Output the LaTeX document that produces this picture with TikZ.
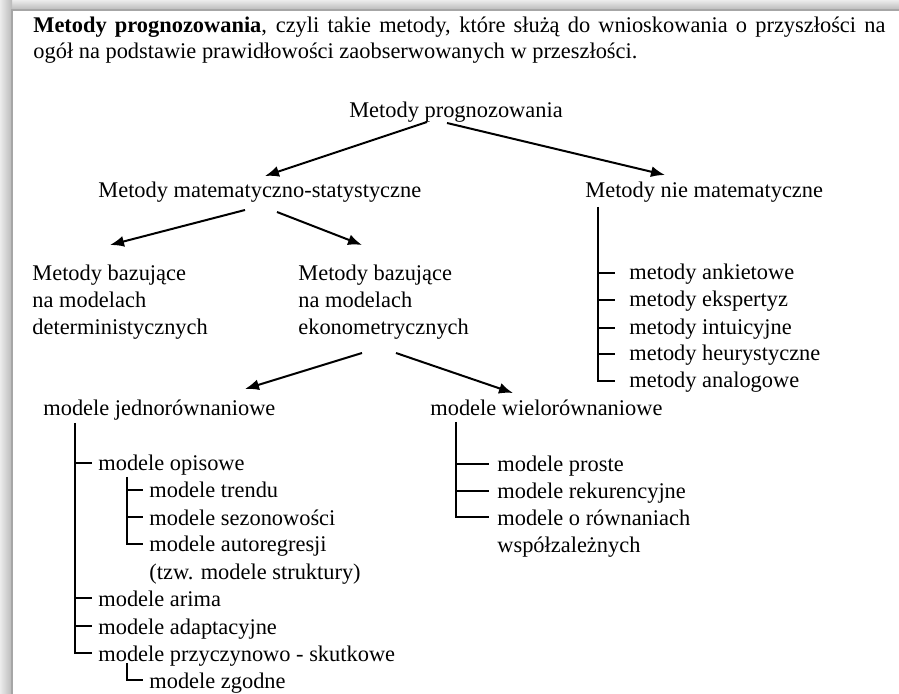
\documentclass[tikz,border=0pt]{standalone}
\usepackage{fontspec}
\setmainfont{Liberation Serif}
\usetikzlibrary{calc,arrows.meta}
\newcommand\mlines[1]{\begin{tabular}[t]{@{}l@{}}#1\end{tabular}}
\begin{document}
\begin{tikzpicture}[x=0.5pt,y=-0.5pt,
  txt/.style={inner sep=0pt, anchor=base west, font=\fontsize{11.2}{13.5}\selectfont},
  arr/.style={line width=1pt, -{Latex[length=7pt,width=5.5pt]}},
  tree/.style={line width=0.7pt}]
\useasboundingbox (0,0) rectangle (899,694);
\fill[white] (0,0) rectangle (899,694);
% shadow frame
\shade[top color=gray!15, bottom color=gray!55] (0,0) rectangle (899,10);
\shade[left color=gray!15, right color=gray!55] (0,0) rectangle (12,694);
\draw[gray!70, line width=1pt] (12,694) -- (12,10.5) -- (899,10.5);

% header
\node[txt] (hdr) at (33,33) {\mlines{\makebox[426pt][s]{\textbf{Metody prognozowania}, czyli takie metody, które służą do wnioskowania o przyszłości na}\\[-0.5pt] ogół na podstawie prawidłowości zaobserwowanych w przeszłości.}};

% nodes
\node[txt, anchor=base] (root) at (456,118) {Metody prognozowania};
\node[txt] (ms) at (98,198) {Metody matematyczno-statystyczne};
\node[txt] (nm) at (585,198) {Metody nie matematyczne};
\node[txt] (det) at (32,281) {\mlines{Metody bazujące\\na modelach\\deterministycznych}};
\node[txt] (eko) at (298,281) {\mlines{Metody bazujące\\na modelach\\ekonometrycznych}};
\node[txt] (jed) at (43,416) {modele jednorównaniowe};
\node[txt] (wie) at (430,416) {modele wielorównaniowe};

% non-mathematical list
\node[txt] (n1) at (629,280) {metody ankietowe};
\node[txt] (n2) at (629,307) {metody ekspertyz};
\node[txt] (n3) at (629,335) {metody intuicyjne};
\node[txt] (n4) at (629,361) {metody heurystyczne};
\node[txt] (n5) at (629,388) {metody analogowe};

% single-equation list
\node[txt] (opis) at (98,471) {modele opisowe};
\node[txt] (trend) at (149,498) {modele trendu};
\node[txt] (sez) at (149,525) {modele sezonowości};
\node[txt] (auto) at (149,552) {\mlines{modele autoregresji\\(tzw. modele struktury)}};
\node[txt] (arima) at (98,606) {modele arima};
\node[txt] (adapt) at (98,634) {modele adaptacyjne};
\node[txt] (przy) at (98,661) {modele przyczynowo - skutkowe};
\node[txt] (zgod) at (149,688) {modele zgodne};

% multi-equation list
\node[txt] (pros) at (497,472) {modele proste};
\node[txt] (rek) at (497,499) {modele rekurencyjne};
\node[txt] (wsp) at (497,525) {\mlines{modele o równaniach\\współzależnych}};

% arrows
\draw[arr] ($(root.base)+(-29,4)$) -- ($(ms.base west)+(167,-22)$);
\draw[arr] ($(root.base)+(-9,5)$) -- ($(nm.base west)+(80,-23)$);
\draw[arr] ($(ms.base west)+(147,12)$) -- ($(det.base west)+(78,-36)$);
\draw[arr] ($(ms.base west)+(179,14)$) -- ($(eko.base west)+(64,-36)$);
\draw[arr] ($(eko.base west)+(64,72)$) -- ($(jed.base west)+(202,-27)$);
\draw[arr] ($(eko.base west)+(98,72)$) -- ($(wie.base west)+(83,-23)$);

% tree: non-mathematical
\coordinate (nv) at ($(nm.base west)+(13,9)$);
\foreach \n in {n1,n2,n3,n4,n5} {\coordinate (t\n) at ($(\n.base west)+(-14,-7)$);}
\draw[tree] (nv) |- (tn5);
\foreach \n in {n1,n2,n3,n4} {\draw[tree] (nv |- t\n) -- (t\n);}

% tree: single-equation
\coordinate (jv) at ($(jed.base west)+(32,7)$);
\foreach \n in {opis,arima,adapt,przy} {\coordinate (t\n) at ($(\n.base west)+(-6,-8)$);}
\draw[tree] (jv) |- (tprzy);
\foreach \n in {opis,arima,adapt} {\draw[tree] (jv |- t\n) -- (t\n);}

% sub-tree: descriptive models
\coordinate (ov) at ($(opis.base west)+(29,6)$);
\foreach \n in {trend,sez,auto} {\coordinate (t\n) at ($(\n.base west)+(-6,-8)$);}
\draw[tree] (ov) |- (tauto);
\foreach \n in {trend,sez} {\draw[tree] (ov |- t\n) -- (t\n);}

% sub-tree: cause-effect
\coordinate (pv) at ($(przy.base west)+(29,2)$);
\coordinate (tzgod) at ($(zgod.base west)+(-6,-8)$);
\draw[tree] (pv) |- (tzgod);

% tree: multi-equation
\coordinate (wv) at ($(wie.base west)+(26,6)$);
\foreach \n in {pros,rek,wsp} {\coordinate (t\n) at ($(\n.base west)+(-8,-8)$);}
\draw[tree] (wv) |- (twsp);
\foreach \n in {pros,rek} {\draw[tree] (wv |- t\n) -- (t\n);}
\end{tikzpicture}
\end{document}
